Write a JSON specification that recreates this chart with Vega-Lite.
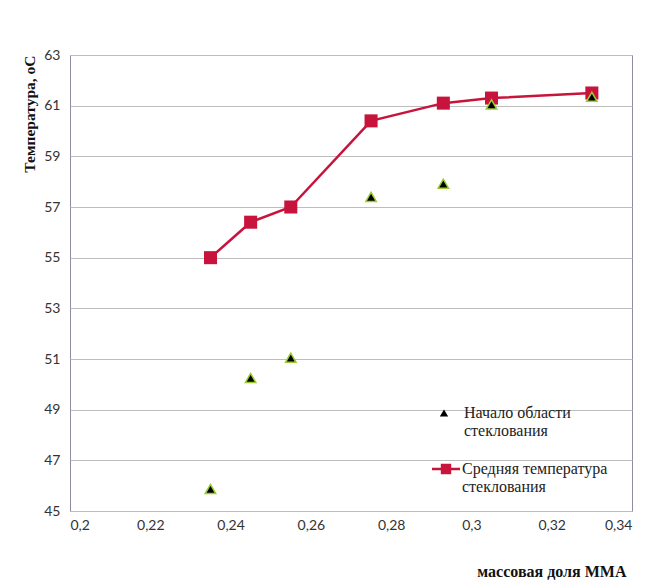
{
  "$schema": "https://vega.github.io/schema/vega-lite/v6.json",
  "width": 562,
  "height": 456,
  "autosize": "none",
  "padding": {"left": 70, "top": 55, "right": 13, "bottom": 76},
  "background": "white",
  "data": {
    "values": [
      {"mma": 0.235, "tg": 55.0, "kind": "Средняя температура|стеклования"},
      {"mma": 0.245, "tg": 56.4, "kind": "Средняя температура|стеклования"},
      {"mma": 0.255, "tg": 57.0, "kind": "Средняя температура|стеклования"},
      {"mma": 0.275, "tg": 60.4, "kind": "Средняя температура|стеклования"},
      {"mma": 0.293, "tg": 61.1, "kind": "Средняя температура|стеклования"},
      {"mma": 0.305, "tg": 61.3, "kind": "Средняя температура|стеклования"},
      {"mma": 0.33, "tg": 61.5, "kind": "Средняя температура|стеклования"},
      {"mma": 0.235, "tg": 45.87, "kind": "Начало области|стеклования"},
      {"mma": 0.245, "tg": 50.25, "kind": "Начало области|стеклования"},
      {"mma": 0.255, "tg": 51.05, "kind": "Начало области|стеклования"},
      {"mma": 0.275, "tg": 57.4, "kind": "Начало области|стеклования"},
      {"mma": 0.293, "tg": 57.92, "kind": "Начало области|стеклования"},
      {"mma": 0.305, "tg": 61.05, "kind": "Начало области|стеклования"},
      {"mma": 0.33, "tg": 61.35, "kind": "Начало области|стеклования"}
    ]
  },
  "encoding": {
    "x": {
      "field": "mma", "type": "quantitative",
      "scale": {"domain": [0.2, 0.34], "nice": false, "zero": false},
      "axis": {
        "values": [0.2, 0.22, 0.24, 0.26, 0.28, 0.3, 0.32, 0.34],
        "labelExpr": "replace(format(datum.value, '.2~f'), '.', ',')",
        "grid": false, "ticks": false, "domain": false,
        "labelPadding": 7,
        "title": "массовая доля ММА",
        "titleAnchor": "end",
        "titleX": 556,
        "titleAlign": "right",
        "titlePadding": 31,
        "titleFontSize": 16
      }
    },
    "y": {
      "field": "tg", "type": "quantitative",
      "scale": {"domain": [45, 63], "nice": false, "zero": false},
      "axis": {
        "values": [45, 47, 49, 51, 53, 55, 57, 59, 61, 63],
        "grid": true, "ticks": false, "domain": false,
        "labelPadding": 10,
        "title": "Температура, оС",
        "titleAnchor": "end",
        "titlePadding": 6,
        "titleFontSize": 15.5
      }
    }
  },
  "layer": [
    {
      "transform": [{"filter": "datum.kind == 'Средняя температура|стеклования'"}],
      "mark": {"type": "line", "strokeWidth": 2.5, "point": {"shape": "square", "filled": true, "size": 170, "opacity": 1}},
      "encoding": {
        "color": {
          "field": "kind", "type": "nominal",
          "scale": {"range": ["#c8143c"]},
          "legend": {
            "title": null,
            "orient": "none",
            "legendX": 362,
            "legendY": 400,
            "symbolType": "M-1,-0.09L1,-0.09L1,0.09L-1,0.09Z M-0.37,-0.37L0.37,-0.37L0.37,0.37L-0.37,0.37Z",
            "symbolSize": 784,
            "symbolFillColor": "#c8143c",
            "symbolStrokeWidth": 0,
            "labelExpr": "split(datum.label, '|')",
            "labelFontSize": 16,
            "labelLimit": 300,
            "labelOffset": 2,
            "symbolOpacity": 1,
            "encode": {"symbols": {"update": {"fill": {"value": "#c8143c"}, "stroke": {"value": "#c8143c"}, "strokeWidth": {"value": 0}}}}
          }
        }
      }
    },
    {
      "transform": [{"filter": "datum.kind == 'Начало области|стеклования'"}],
      "mark": {"type": "point", "filled": true, "fill": "black", "stroke": "#9acd32", "strokeWidth": 1.5, "size": 110, "opacity": 1},
      "encoding": {
        "shape": {
          "field": "kind", "type": "nominal",
          "scale": {"range": ["triangle-up"]},
          "legend": {
            "title": null,
            "orient": "none",
            "legendX": 366,
            "legendY": 350,
            "symbolSize": 70,
            "symbolFillColor": "black",
            "symbolStrokeColor": "#9acd32",
            "symbolStrokeWidth": 0.5,
            "labelExpr": "split(datum.label, '|')",
            "labelFontSize": 16,
            "labelLimit": 300,
            "labelOffset": 12
          }
        }
      }
    }
  ],
  "config": {
    "font": "Liberation Serif",
    "view": {"stroke": "#8c8ca0", "strokeWidth": 1},
    "axis": {
      "labelFont": "Lato",
      "labelFontSize": 14,
      "labelColor": "#333",
      "titleFont": "Liberation Serif",
      "titleFontWeight": "bold",
      "titleColor": "#111",
      "gridColor": "#bdbdbd",
      "gridWidth": 1
    },
    "legend": {"labelFont": "Liberation Serif", "labelColor": "#222"}
  }
}
